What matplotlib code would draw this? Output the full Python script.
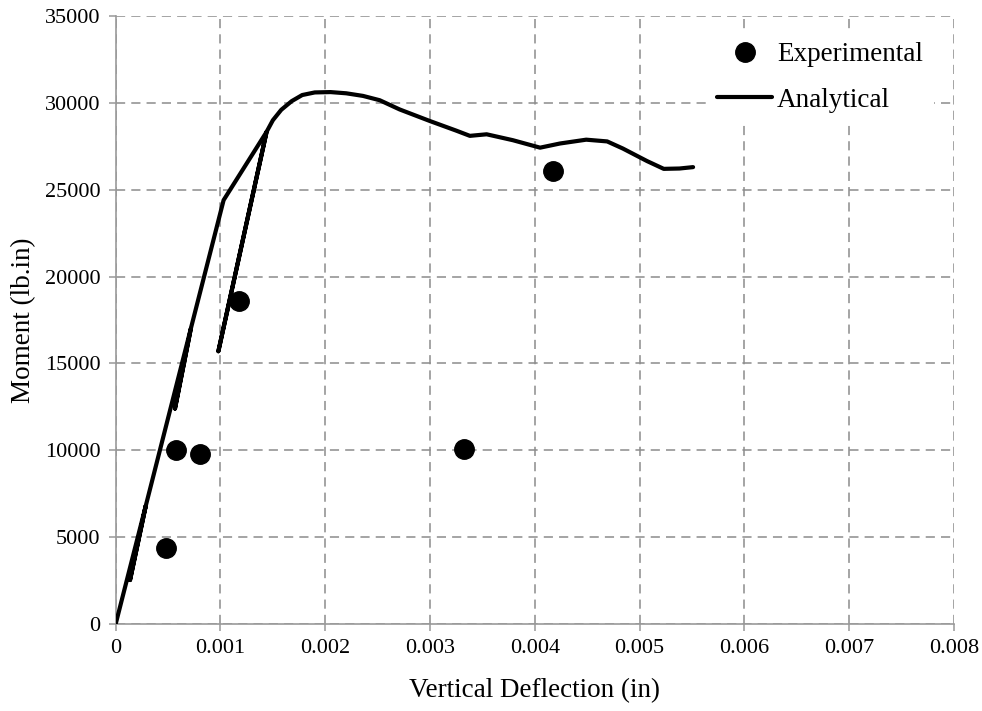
import numpy as np
import matplotlib.pyplot as plt

plt.rcParams['font.family'] = ['Liberation Serif', 'DejaVu Serif']

# experimental points
exp_x = [0.00048, 0.00058, 0.00080, 0.00118, 0.00332, 0.00417]
exp_y = [4400, 10000, 9800, 18600, 10050, 26100]

# analytical curve (incl. unload/reload loops)
ana_x = [0, 0.000287, 0.000137, 0.000287, 0.000717, 0.000566, 0.000717,
         0.00103, 0.00144, 0.00098, 0.00144, 0.00150, 0.00158, 0.00168,
         0.00178, 0.00190, 0.00205, 0.00220, 0.00236, 0.00252, 0.00271,
         0.00300, 0.00325, 0.00338, 0.00354, 0.00379, 0.00405, 0.00424,
         0.00449, 0.00469, 0.00484, 0.00507, 0.00523, 0.00538, 0.00551]
ana_y = [0, 6800, 2530, 6800, 17000, 12400, 17000,
         24400, 28330, 15700, 28330, 29000, 29600, 30100,
         30450, 30600, 30620, 30550, 30400, 30150, 29620,
         28950, 28400, 28100, 28190, 27850, 27420, 27660,
         27880, 27780, 27370, 26650, 26200, 26220, 26300]

fig = plt.figure(figsize=(9.82, 7.11), dpi=100)
ax = fig.add_axes([0.1178, 0.1224, 0.8537, 0.8551])

ax.plot(ana_x, ana_y, color='black', lw=3, solid_joinstyle='round',
        solid_capstyle='round', label='Analytical', zorder=3)
ax.plot(exp_x, exp_y, 'o', color='black', markersize=14, label='Experimental',
        zorder=4)

ax.set_xlim(0, 0.008)
ax.set_ylim(0, 35000)
ax.set_xticks(np.arange(0, 0.0081, 0.001))
ax.set_xticklabels(['0', '0.001', '0.002', '0.003', '0.004', '0.005',
                    '0.006', '0.007', '0.008'])
ax.set_yticks(np.arange(0, 35001, 5000))

ax.grid(True, color='#8c8c8c', linestyle=(0, (6, 4)), lw=1.1)
ax.set_axisbelow(True)
for s in ['top', 'right']:
    ax.spines[s].set_visible(False)
for s in ['left', 'bottom']:
    ax.spines[s].set_color('#999999')
    ax.spines[s].set_linewidth(1.2)
ax.tick_params(colors='#999999', labelcolor='black', length=5, width=1.1,
               labelsize=16, pad=6)

ax.set_xlabel('Vertical Deflection (in)', fontsize=19.5, labelpad=14)
ax.set_ylabel('Moment (lb.in)', fontsize=19.5, labelpad=6)

h, l = ax.get_legend_handles_labels()
leg = ax.legend([h[1], h[0]], [l[1], l[0]], loc='upper right',
                bbox_to_anchor=(0.992, 0.997), fontsize=19.5, frameon=True,
                framealpha=1, edgecolor='none', fancybox=False,
                handlelength=2.0, handletextpad=0.2, labelspacing=0.75,
                borderpad=0.4)

fig.savefig('out.png', dpi=100)
